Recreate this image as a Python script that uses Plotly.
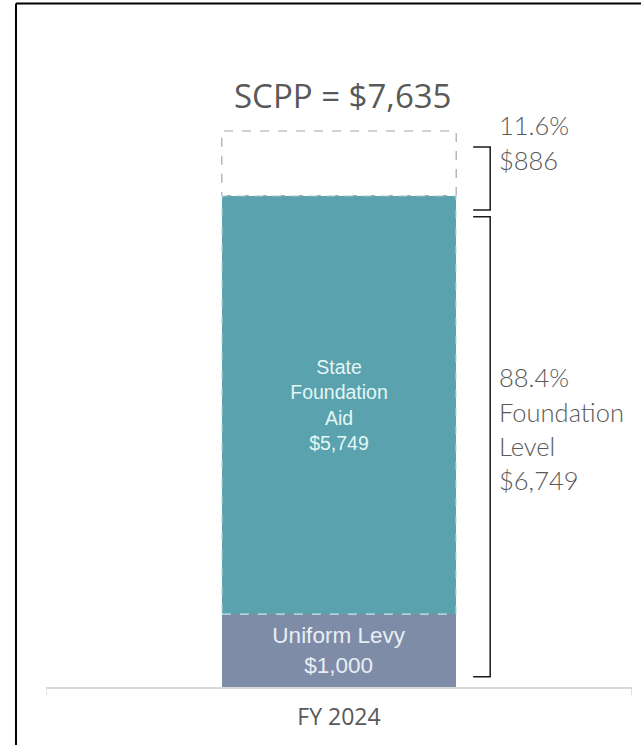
import plotly.graph_objects as go

# ---- data ----
category = "FY 2024"
segment_names = ["Uniform Levy", "State Foundation Aid", "Remaining SCPP"]
segment_values = [1000, 5749, 886]
scpp_total = 7635
foundation_level = 6749
foundation_pct = "88.4%"
remaining_pct = "11.6%"

levy, aid, remaining = segment_values
foundation = levy + aid
total = foundation + remaining

TEAL = "#5aa2ad"
LEVY = "#7f8ca8"
GRAY_TXT = "#595959"
OUT_FONT = "Lato"

fig = go.Figure()
fig.add_trace(go.Bar(
    x=[0], y=[levy], width=0.4, marker=dict(color=LEVY, line=dict(width=0)),
    text=[f"Uniform Levy<br>${levy:,}"], textposition="inside", insidetextanchor="middle",
    textfont=dict(family="Liberation Sans, Arial", size=22.5, color="#e9eef4"),
    hoverinfo="skip"))
fig.add_trace(go.Bar(
    x=[0], y=[aid], width=0.4, marker=dict(color=TEAL, line=dict(width=0)),
    text=[f"State<br>Foundation<br>Aid<br>${aid:,}"], textposition="inside", insidetextanchor="middle",
    textfont=dict(family="Liberation Sans, Arial", size=19.5, color="#e4f6f6"),
    hoverinfo="skip"))
fig.add_trace(go.Bar(
    x=[0], y=[remaining], width=0.4, marker=dict(color="white", line=dict(width=0)),
    hoverinfo="skip"))

# dashed outlines
fig.add_shape(type="rect", xref="x", yref="y", x0=-0.2, x1=0.2, y0=foundation, y1=total,
              line=dict(color="#a6a6a6", width=1.2, dash="dash"))
fig.add_shape(type="rect", xref="x", yref="y", x0=-0.2, x1=0.2, y0=levy, y1=foundation,
              line=dict(color="#cfe6e8", width=1.2, dash="dash"))

# brackets
xv, xa = 0.258, 0.229
def bracket(y_bot, y_top):
    fig.add_trace(go.Scatter(x=[xa, xv, xv, xa], y=[y_top, y_top, y_bot, y_bot], mode="lines",
                             line=dict(color="#1a1a1a", width=1.5), hoverinfo="skip"))
bracket(foundation - 200, total - 220)
bracket(140, foundation - 290)

# labels
fig.add_annotation(x=0, y=total, xref="x", yref="y", text=f"SCPP = ${scpp_total:,}",
                   showarrow=False, yanchor="middle", yshift=36, xshift=3,
                   font=dict(family="Open Sans", size=33, color=GRAY_TXT))
for i, line in enumerate([remaining_pct, f"${remaining}"]):
    fig.add_annotation(x=0.27, y=total, xref="x", yref="y", text=line, showarrow=False,
                       xanchor="left", yanchor="middle", yshift=6 - 35 * i,
                       font=dict(family=OUT_FONT, size=25.5, color=GRAY_TXT, weight=300))
for i, line in enumerate([foundation_pct, "Foundation", "Level", f"${foundation_level:,}"]):
    fig.add_annotation(x=0.27, y=foundation / 2, xref="x", yref="y", text=line, showarrow=False,
                       xanchor="left", yanchor="middle", yshift=64 - 34.3 * i,
                       font=dict(family=OUT_FONT, size=25.5, color=GRAY_TXT, weight=300))

# end ticks on category axis
for xe in (-0.5, 0.5):
    fig.add_shape(type="line", xref="x", yref="paper", x0=xe, x1=xe, y0=0, y1=-0.013,
                  line=dict(color="#d9d9d9", width=1.5))

# frame (top and left edges)
fig.add_shape(type="line", xref="paper", yref="paper", x0=-0.0512, x1=1.5, y0=1.0564, y1=1.0564,
              line=dict(color="black", width=2))
fig.add_shape(type="line", xref="paper", yref="paper", x0=-0.0512, x1=-0.0512, y0=-0.5, y1=1.0564,
              line=dict(color="black", width=2))

fig.update_layout(
    width=641, height=745, barmode="stack", showlegend=False,
    paper_bgcolor="white", plot_bgcolor="white",
    margin=dict(l=46, r=9, t=40, b=58),
    xaxis=dict(range=[-0.5, 0.5], tickvals=[0], ticktext=[category], showgrid=False,
               zeroline=False, showline=True, linecolor="#d9d9d9", linewidth=2,
               ticks="", ticklabelstandoff=8,
               tickfont=dict(family="Open Sans", size=23, color=GRAY_TXT),
               fixedrange=True),
    yaxis=dict(range=[0, 8885], visible=False, showgrid=False, zeroline=False, fixedrange=True),
)

fig.write_html("out.html", config={"displayModeBar": False},
               post_script="document.body.style.margin='0';document.body.style.overflow='hidden';")
